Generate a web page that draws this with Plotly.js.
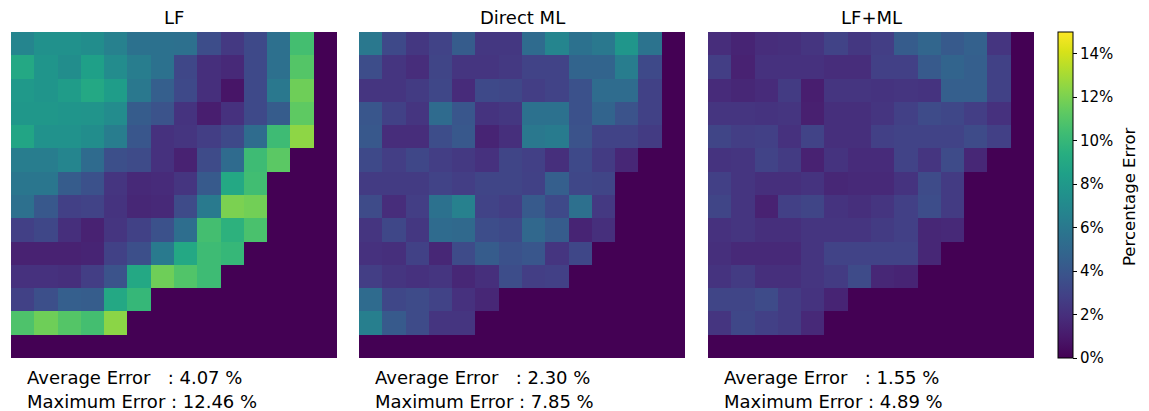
<!DOCTYPE html>
<html>
<head>
<meta charset="utf-8">
<script src="https://cdn.plot.ly/plotly-3.0.1.min.js"></script>
<style>html,body{margin:0;padding:0;background:#fff;}#chart{width:1149px;height:411px;}</style>
</head>
<body>
<div id="chart"></div>
<script>
// Panel titles and summary stats
const panelTitles = ["LF", "Direct ML", "LF+ML"];
const averageErrors = ["4.07", "2.30", "1.55"];
const maximumErrors = ["12.46", "7.85", "4.89"];
const colorbarLabel = "Percentage Error";

// Colorbar ticks
const cbTickVals = [0, 2, 4, 6, 8, 10, 12, 14];
const cbTickText = ["0%", "2%", "4%", "6%", "8%", "10%", "12%", "14%"];

// Percentage error grids (row 0 = top)
const lfData = [
  [6.8,7.5,7.5,7.3,6.5,5.6,5.6,5.5,3.5,2.5,3.3,5.5,10.5,0],
  [9.0,7.8,7.3,8.5,7.2,6.3,5.6,3.2,2.0,1.7,3.3,5.5,11.0,0],
  [8.0,7.8,8.2,9.0,8.3,6.0,4.5,3.3,2.0,0.8,3.3,6.0,11.7,0],
  [7.9,7.9,7.8,7.7,7.2,4.3,3.8,2.2,1.2,2.1,3.3,4.3,11.3,0],
  [8.8,7.6,7.6,7.3,6.3,4.0,2.1,2.3,2.7,3.3,5.3,10.3,12.46,0],
  [6.3,6.3,6.8,5.2,3.6,3.4,2.1,1.4,3.4,5.2,10.3,11.2,0,0],
  [5.9,5.9,4.3,3.7,2.3,1.7,1.8,2.3,4.2,9.0,10.4,0,0,0],
  [5.5,4.1,2.8,3.0,2.2,1.6,1.7,3.4,6.1,12.0,11.8,0,0,0],
  [2.8,3.2,2.0,1.4,2.3,2.9,3.7,5.4,10.5,9.6,10.7,0,0,0],
  [1.4,1.4,1.4,1.5,2.9,3.6,6.1,9.0,10.3,10.0,0,0,0,0],
  [2.1,2.1,2.0,2.7,3.8,9.0,11.7,10.9,10.3,0,0,0,0,0],
  [2.9,3.6,4.5,4.4,9.0,10.0,0,0,0,0,0,0,0,0],
  [10.8,11.7,11.0,10.5,12.4,0,0,0,0,0,0,0,0,0],
  [0,0,0,0,0,0,0,0,0,0,0,0,0,0]
];

const directMLData = [
  [6.0,3.3,2.4,3.0,4.3,2.4,2.4,5.2,6.8,5.6,6.0,7.85,5.7,0],
  [3.5,2.3,1.9,3.1,2.3,2.3,2.5,3.0,3.0,4.8,4.8,6.3,3.3,0],
  [2.3,2.3,2.6,3.2,1.8,3.3,3.2,2.7,3.0,3.7,5.3,5.3,2.9,0],
  [4.0,2.9,2.3,5.2,4.0,2.2,2.4,5.6,5.6,3.7,4.8,3.8,2.9,0],
  [4.1,1.9,1.9,3.5,4.1,1.5,2.0,6.0,6.2,3.8,3.0,3.0,2.6,0],
  [3.3,2.7,3.2,2.7,2.5,2.1,3.1,2.8,2.0,3.3,2.6,1.6,0,0],
  [2.6,2.6,2.6,3.0,2.7,3.1,3.1,2.9,4.5,3.2,3.1,0,0,0],
  [3.4,1.9,2.7,5.6,6.5,3.0,2.7,4.2,3.3,5.5,2.5,0,0,0],
  [2.3,3.2,2.4,5.2,5.1,3.5,3.3,5.0,4.3,1.5,2.0,0,0,0],
  [2.1,2.0,2.9,1.6,3.4,4.3,3.7,4.0,2.3,3.2,0,0,0,0],
  [2.7,2.3,2.1,2.3,1.6,2.0,3.5,2.7,2.8,0,0,0,0,0],
  [5.2,3.2,3.4,3.0,2.1,1.6,0,0,0,0,0,0,0,0],
  [6.4,4.2,3.4,2.3,2.3,0,0,0,0,0,0,0,0,0],
  [0,0,0,0,0,0,0,0,0,0,0,0,0,0]
];

const lfmlData = [
  [1.9,1.5,1.9,2.0,2.3,3.0,2.4,2.7,4.3,4.89,4.2,4.6,2.3,0],
  [2.7,1.4,2.1,2.1,2.1,1.9,1.9,2.8,2.8,4.2,4.8,4.5,2.9,0],
  [1.8,1.6,1.8,2.6,1.2,2.3,2.3,2.2,2.3,2.2,4.5,4.5,2.9,0],
  [2.3,2.3,2.2,2.3,1.3,2.0,2.0,2.3,2.8,3.4,3.2,2.7,2.1,0],
  [3.1,2.7,2.8,2.1,3.0,2.0,2.0,2.8,3.0,3.0,3.0,3.4,2.8,0],
  [2.2,2.3,3.0,2.6,1.4,2.2,1.8,1.8,3.0,2.3,3.4,1.6,0,0],
  [2.8,2.3,2.0,2.0,2.2,1.6,1.7,1.7,2.2,3.4,2.6,0,0,0],
  [3.1,2.3,1.4,2.8,3.1,2.2,2.0,2.3,2.8,3.5,2.6,0,0,0],
  [2.1,2.3,2.0,2.0,2.3,2.3,2.3,2.6,2.8,1.6,1.7,0,0,0],
  [2.0,1.7,1.7,1.7,2.3,3.0,3.0,3.0,3.0,1.6,0,0,0,0],
  [2.2,2.6,2.0,2.0,2.3,2.6,3.4,1.6,1.5,0,0,0,0,0],
  [3.1,3.1,3.4,2.6,2.2,1.5,0,0,0,0,0,0,0,0],
  [2.3,3.2,2.8,2.6,1.7,0,0,0,0,0,0,0,0,0],
  [0,0,0,0,0,0,0,0,0,0,0,0,0,0]
];

const W = 1149, H = 411;
const panelLeft = [11, 359, 708];
const panelW = 326;
const plotTop = 32, plotBottom = 358;
const FONT = "DejaVu Sans, sans-serif";
const px = v => v / W;
const py = v => 1 - v / H;

const grids = [lfData, directMLData, lfmlData];
const traces = grids.map((z, i) => ({
  type: "heatmap",
  z: z,
  xaxis: i === 0 ? "x" : "x" + (i + 1),
  yaxis: i === 0 ? "y" : "y" + (i + 1),
  coloraxis: "coloraxis",
  hoverinfo: "skip"
}));

const layout = {
  width: W, height: H,
  margin: {l: 0, r: 0, t: 0, b: 0},
  paper_bgcolor: "#fff",
  plot_bgcolor: "#fff",
  font: {family: FONT, color: "#000"},
  showlegend: false,
  coloraxis: {
    colorscale: "Viridis",
    cmin: 0, cmax: 15,
    colorbar: {
      x: px(1058), xanchor: "left", xpad: 0,
      y: py((plotTop + plotBottom) / 2), yanchor: "middle", ypad: 0,
      len: plotBottom - plotTop, lenmode: "pixels",
      thickness: 15, thicknessmode: "pixels",
      outlinecolor: "#000", outlinewidth: 1,
      ticks: "outside", ticklen: 4, tickwidth: 1, tickcolor: "#000",
      tickvals: cbTickVals, ticktext: cbTickText,
      tickfont: {family: FONT, size: 15, color: "#000"}
    }
  },
  annotations: [{
    text: colorbarLabel, xref: "paper", yref: "paper",
    x: px(1129), y: py(197), xanchor: "center", yanchor: "middle",
    textangle: -90, showarrow: false,
    font: {family: FONT, size: 16.5, color: "#000"}
  }]
};

for (let i = 0; i < 3; i++) {
  const xa = i === 0 ? "xaxis" : "xaxis" + (i + 1);
  const ya = i === 0 ? "yaxis" : "yaxis" + (i + 1);
  layout[xa] = {
    domain: [px(panelLeft[i]), px(panelLeft[i] + panelW)],
    range: [-0.5, 13.5], showticklabels: false, showgrid: false,
    zeroline: false, ticks: "", showline: false, fixedrange: true,
    anchor: i === 0 ? "y" : "y" + (i + 1)
  };
  layout[ya] = {
    domain: [py(plotBottom), py(plotTop)],
    range: [13.5, -0.5], showticklabels: false, showgrid: false,
    zeroline: false, ticks: "", showline: false, fixedrange: true,
    anchor: i === 0 ? "x" : "x" + (i + 1)
  };
  layout.annotations.push({
    text: panelTitles[i], xref: "paper", yref: "paper",
    x: px(panelLeft[i] + panelW / 2), y: py(18), xanchor: "center", yanchor: "middle",
    showarrow: false, font: {family: FONT, size: 18, color: "#000"}
  });
  layout.annotations.push({
    text: "Average Error\u00a0\u00a0\u00a0: " + averageErrors[i] + " %",
    xref: "paper", yref: "paper",
    x: px(panelLeft[i] + 14), y: py(377), xanchor: "left", yanchor: "middle",
    showarrow: false, font: {family: FONT, size: 18, color: "#000"}
  });
  layout.annotations.push({
    text: "Maximum Error : " + maximumErrors[i] + " %",
    xref: "paper", yref: "paper",
    x: px(panelLeft[i] + 14), y: py(401), xanchor: "left", yanchor: "middle",
    showarrow: false, font: {family: FONT, size: 18, color: "#000"}
  });
}

Plotly.newPlot("chart", traces, layout, {displayModeBar: false, staticPlot: true});
</script>
</body>
</html>
